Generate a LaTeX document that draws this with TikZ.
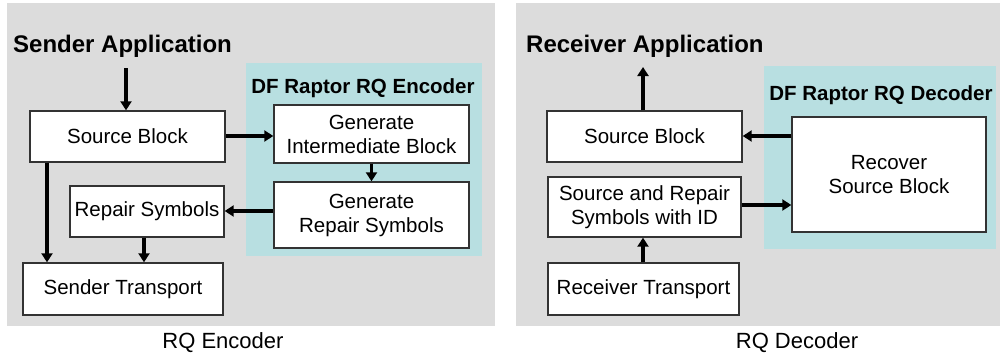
\documentclass[tikz,border=0pt]{standalone}
\usepackage{fontspec}
\setmainfont{Liberation Sans}
\usetikzlibrary{arrows.meta}
\definecolor{panelgray}{HTML}{DCDCDC}
\definecolor{tealbg}{HTML}{B8DFE1}
\definecolor{edge}{HTML}{333333}
\tikzset{
  box/.style={draw=edge, line width=1.4pt, fill=white, inner sep=0pt, align=center,
    font=\fontsize{20.5}{24}\selectfont},
  arr/.style={line width=3.5pt, -{Triangle[length=9pt,width=11pt]}},
  titletext/.style={font=\bfseries\fontsize{24}{28}\selectfont, inner sep=0pt},
  subtext/.style={font=\bfseries\fontsize{20.5}{24}\selectfont, inner sep=0pt},
  captext/.style={font=\fontsize{22}{26}\selectfont, inner sep=0pt}
}
\begin{document}
\begin{tikzpicture}[x=1pt,y=-1pt]
\useasboundingbox (0,0) rectangle (1000,356);
\fill[white] (0,0) rectangle (1000,356);
% panels
\fill[panelgray] (7,3) rectangle (495,326);
\fill[panelgray] (516,3) rectangle (1000,326);
\fill[tealbg] (246,63) rectangle (482,256);
\fill[tealbg] (764,66) rectangle (996,249);
% left titles
\node[titletext, anchor=base west] (sapp) at (13,52) {Sender Application};
\node[subtext, anchor=base] (enc) at (363,93) {DF Raptor RQ Encoder};
\node[captext, anchor=base] (rqe) at (223,348) {RQ Encoder};
% left boxes
\node[box, minimum width=195, minimum height=51] (sb) at (127.5,136.5) {Source Block};
\node[box, minimum width=195, minimum height=58] (gi) at (371.5,134) {Generate\\Intermediate Block};
\node[box, minimum width=195, minimum height=66] (gr) at (371.5,215) {Generate\\Repair Symbols};
\node[box, minimum width=154, minimum height=51] (rs) at (147,211.5) {Repair Symbols};
\node[box, minimum width=200, minimum height=52] (st) at (123,289) {Sender Transport};
% left arrows
\coordinate (in1) at (126,68);
\coordinate (c1) at (47,0);
\draw[arr] (in1) -- (in1 |- sb.north);
\draw[arr] ([yshift=0.5pt]sb.east) -- ([yshift=0.5pt]sb.east -| gi.west);
\draw[arr] (gi.south) -- (gr.north);
\draw[arr] ([yshift=0.5pt]rs.east -| gr.west) -- ([yshift=0.5pt]rs.east);
\draw[arr] (sb.south -| c1) -- (st.north -| c1);
\draw[arr] ([xshift=-3pt]rs.south) -- ([xshift=-3pt]rs.south |- st.north);
% right titles
\node[titletext, anchor=base west] (rapp) at (526,52) {Receiver Application};
\node[subtext, anchor=base] (dec) at (881,100) {DF Raptor RQ Decoder};
\node[captext, anchor=base] (rqd) at (797,348) {RQ Decoder};
% right boxes
\node[box, minimum width=195, minimum height=51] (sb2) at (644.5,136.5) {Source Block};
\node[box, minimum width=194, minimum height=115] (rec) at (889,174.5) {Recover\\Source Block};
\node[box, minimum width=193, minimum height=60] (srs) at (644.5,207) {Source and Repair\\Symbols with ID};
\node[box, minimum width=191, minimum height=52] (rt) at (643.5,289) {Receiver Transport};
% right arrows
\coordinate (out) at (643,67);
\draw[arr] (sb2.north -| out) -- (out);
\draw[arr] ([yshift=0.5pt]sb2.east -| rec.west) -- ([yshift=0.5pt]sb2.east);
\draw[arr] ([yshift=2pt]srs.east) -- ([yshift=2pt]srs.east -| rec.west);
\draw[arr] (rt.north -| out) -- (srs.south -| out);
\end{tikzpicture}
\end{document}
